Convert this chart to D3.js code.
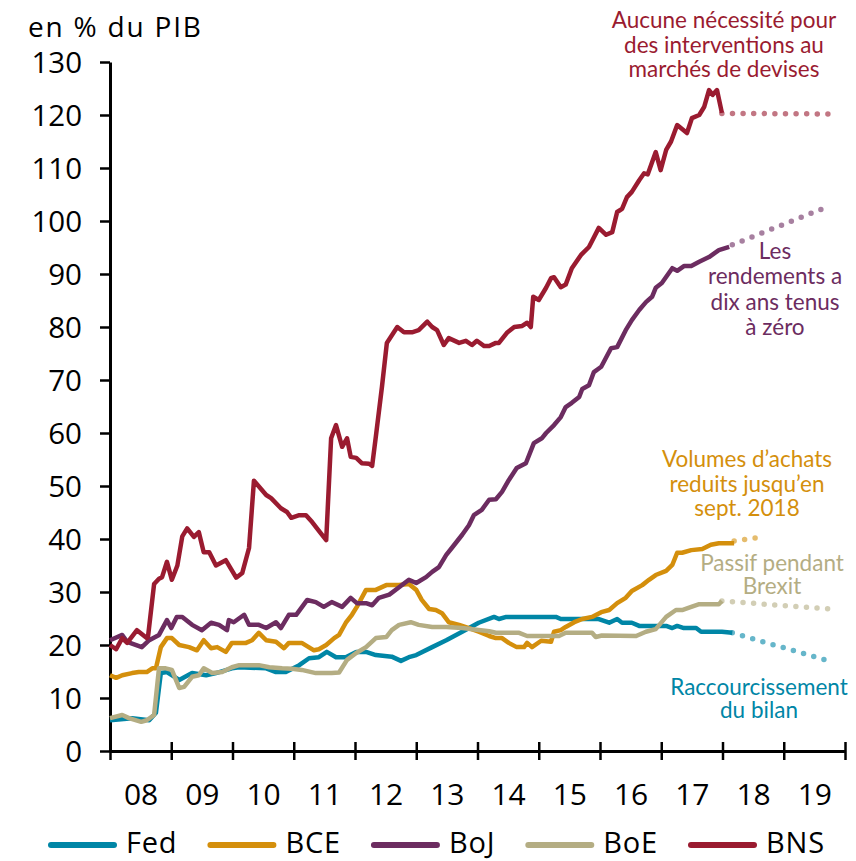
<!DOCTYPE html>
<html>
<head>
<meta charset="utf-8">
<script src="https://cdn.jsdelivr.net/npm/d3@7"></script>
<style>
  body { margin: 0; background: #fff; }
  text { font-family: "Open Sans", "DejaVu Sans", sans-serif; }
  .note { font-family: Lato, "Open Sans", sans-serif; font-size: 22.5px; }
</style>
</head>
<body>
<script>
// ---- data (% of GDP) ----
var years = [2008, 2009, 2010, 2011, 2012, 2013, 2014, 2015, 2016, 2017, 2018, 2019, 2020];
var yearLabels = ["08", "09", "10", "11", "12", "13", "14", "15", "16", "17", "18", "19"];
var yTicks = [0, 10, 20, 30, 40, 50, 60, 70, 80, 90, 100, 110, 120, 130];
var seriesNames = ["Fed", "BCE", "BoJ", "BoE", "BNS"];

var fedDates = [2008.00, 2008.36, 2008.64, 2008.75, 2008.83, 2008.93, 2009.13, 2009.34, 2009.57, 2009.73, 2009.99, 2010.11, 2010.55, 2010.71, 2010.87, 2011.09, 2011.25, 2011.41, 2011.54, 2011.69, 2011.85, 2012.02, 2012.18, 2012.34, 2012.60, 2012.75, 2012.88, 2013.00, 2013.26, 2013.49, 2013.75, 2014.02, 2014.27, 2014.35, 2014.47, 2015.28, 2015.36, 2015.98, 2016.15, 2016.28, 2016.36, 2016.52, 2016.64, 2017.08, 2017.18, 2017.26, 2017.37, 2017.57, 2017.65, 2017.99, 2018.16];
var fedValues = [5.8, 6.2, 5.8, 7.2, 14.7, 14.9, 13.4, 14.7, 14.3, 14.7, 15.6, 15.8, 15.6, 14.9, 14.9, 16.2, 17.5, 17.7, 18.7, 17.7, 17.7, 18.7, 18.7, 18.1, 17.8, 17.0, 17.7, 18.1, 19.6, 20.9, 22.5, 24.2, 25.3, 24.9, 25.3, 25.3, 24.9, 24.9, 24.2, 24.9, 24.2, 24.2, 23.6, 23.6, 23.2, 23.6, 23.2, 23.2, 22.5, 22.5, 22.3];

var bceDates = [2008.00, 2008.10, 2008.20, 2008.36, 2008.47, 2008.60, 2008.69, 2008.75, 2008.83, 2008.93, 2009.01, 2009.13, 2009.29, 2009.42, 2009.53, 2009.65, 2009.75, 2009.89, 2009.99, 2010.22, 2010.32, 2010.43, 2010.55, 2010.71, 2010.84, 2010.92, 2011.13, 2011.33, 2011.41, 2011.53, 2011.66, 2011.74, 2011.85, 2011.95, 2012.03, 2012.18, 2012.34, 2012.51, 2012.72, 2012.88, 2013.00, 2013.09, 2013.21, 2013.32, 2013.42, 2013.53, 2013.70, 2013.86, 2014.02, 2014.19, 2014.30, 2014.40, 2014.51, 2014.64, 2014.76, 2014.81, 2014.89, 2015.04, 2015.20, 2015.25, 2015.36, 2015.44, 2015.58, 2015.71, 2015.87, 2016.02, 2016.15, 2016.28, 2016.42, 2016.52, 2016.69, 2016.80, 2016.91, 2017.08, 2017.18, 2017.26, 2017.34, 2017.49, 2017.67, 2017.81, 2017.94, 2018.19];
var bceValues = [14.3, 13.8, 14.3, 14.7, 14.9, 14.9, 15.6, 15.6, 19.6, 21.3, 21.3, 20.0, 19.6, 19.0, 20.9, 19.4, 19.6, 18.7, 20.4, 20.4, 20.9, 22.3, 20.9, 20.6, 19.4, 20.4, 20.4, 19.0, 19.2, 20.0, 21.3, 21.9, 24.2, 25.7, 27.2, 30.4, 30.4, 31.3, 31.3, 31.5, 30.4, 28.5, 26.8, 26.6, 26.0, 24.3, 23.8, 23.2, 22.5, 21.7, 21.3, 21.3, 20.4, 19.6, 19.6, 20.4, 19.6, 20.8, 20.6, 22.5, 22.8, 23.4, 24.3, 24.9, 25.3, 26.2, 26.6, 27.9, 28.9, 30.2, 31.3, 32.3, 33.2, 34.0, 35.1, 37.4, 37.4, 37.9, 38.1, 38.9, 39.2, 39.2];

var bojDates = [2008.00, 2008.20, 2008.28, 2008.52, 2008.64, 2008.80, 2008.93, 2009.00, 2009.09, 2009.18, 2009.34, 2009.50, 2009.65, 2009.78, 2009.91, 2009.94, 2010.02, 2010.19, 2010.27, 2010.43, 2010.55, 2010.71, 2010.79, 2010.92, 2011.04, 2011.22, 2011.36, 2011.49, 2011.62, 2011.79, 2011.93, 2012.03, 2012.18, 2012.28, 2012.39, 2012.56, 2012.72, 2012.88, 2013.00, 2013.16, 2013.26, 2013.37, 2013.49, 2013.58, 2013.75, 2013.86, 2013.94, 2014.07, 2014.19, 2014.30, 2014.40, 2014.51, 2014.64, 2014.79, 2014.92, 2015.05, 2015.12, 2015.25, 2015.36, 2015.44, 2015.54, 2015.66, 2015.71, 2015.82, 2015.90, 2016.02, 2016.18, 2016.28, 2016.42, 2016.52, 2016.64, 2016.75, 2016.85, 2016.91, 2017.01, 2017.18, 2017.26, 2017.37, 2017.49, 2017.62, 2017.78, 2017.94, 2018.11];
var bojValues = [20.9, 21.9, 20.6, 19.6, 20.9, 21.9, 24.7, 23.2, 25.3, 25.3, 23.8, 22.8, 24.2, 23.8, 22.8, 24.7, 24.3, 25.7, 23.8, 23.8, 23.2, 24.3, 23.2, 25.7, 25.7, 28.5, 28.1, 27.2, 28.1, 27.2, 28.9, 27.9, 27.9, 27.5, 28.9, 29.5, 30.9, 32.3, 31.7, 32.8, 33.8, 34.7, 37.0, 38.3, 40.8, 42.6, 44.5, 45.5, 47.4, 47.5, 48.9, 51.1, 53.4, 54.3, 58.1, 59.0, 60.0, 61.5, 63.0, 64.9, 65.7, 66.8, 68.3, 69.0, 71.5, 72.5, 76.0, 76.2, 79.4, 81.3, 83.2, 84.7, 85.7, 87.4, 88.3, 91.1, 90.6, 91.5, 91.5, 92.3, 93.2, 94.5, 95.1];

var boeDates = [2008.00, 2008.20, 2008.31, 2008.51, 2008.60, 2008.72, 2008.80, 2008.91, 2009.01, 2009.13, 2009.21, 2009.34, 2009.45, 2009.53, 2009.67, 2009.83, 2009.99, 2010.11, 2010.43, 2010.60, 2010.81, 2010.97, 2011.13, 2011.36, 2011.62, 2011.74, 2011.87, 2012.02, 2012.18, 2012.34, 2012.51, 2012.60, 2012.72, 2012.91, 2013.04, 2013.26, 2013.49, 2013.75, 2014.19, 2014.30, 2014.68, 2014.81, 2015.33, 2015.44, 2015.87, 2015.93, 2016.03, 2016.59, 2016.75, 2016.91, 2017.08, 2017.24, 2017.34, 2017.49, 2017.62, 2017.94, 2017.99];
var boeValues = [6.2, 6.8, 6.2, 5.5, 5.8, 6.8, 15.6, 15.6, 15.3, 11.9, 12.1, 14.0, 14.3, 15.6, 14.7, 14.9, 15.8, 16.2, 16.2, 15.8, 15.6, 15.5, 15.3, 14.7, 14.7, 14.8, 17.2, 18.5, 19.6, 21.3, 21.5, 22.8, 23.8, 24.3, 23.8, 23.4, 23.4, 23.2, 22.6, 22.3, 22.3, 21.7, 21.7, 22.3, 22.3, 21.5, 21.8, 21.7, 22.5, 23.0, 25.3, 26.6, 26.6, 27.2, 27.7, 27.7, 28.3];

var bnsDates = [2008.00, 2008.10, 2008.20, 2008.28, 2008.44, 2008.60, 2008.62, 2008.72, 2008.80, 2008.85, 2008.93, 2009.01, 2009.10, 2009.18, 2009.26, 2009.37, 2009.45, 2009.53, 2009.62, 2009.73, 2009.89, 2010.06, 2010.16, 2010.27, 2010.35, 2010.55, 2010.63, 2010.79, 2010.89, 2010.96, 2011.09, 2011.20, 2011.30, 2011.44, 2011.53, 2011.61, 2011.69, 2011.79, 2011.87, 2011.93, 2012.02, 2012.11, 2012.23, 2012.28, 2012.34, 2012.44, 2012.52, 2012.69, 2012.80, 2012.93, 2013.04, 2013.18, 2013.26, 2013.34, 2013.45, 2013.53, 2013.70, 2013.81, 2013.91, 2013.99, 2014.11, 2014.19, 2014.30, 2014.35, 2014.48, 2014.60, 2014.73, 2014.81, 2014.87, 2014.91, 2015.00, 2015.12, 2015.20, 2015.25, 2015.36, 2015.44, 2015.54, 2015.69, 2015.82, 2015.98, 2016.10, 2016.20, 2016.28, 2016.36, 2016.44, 2016.52, 2016.64, 2016.72, 2016.78, 2016.91, 2016.99, 2017.08, 2017.16, 2017.26, 2017.42, 2017.50, 2017.62, 2017.70, 2017.78, 2017.84, 2017.91, 2017.99];
var bnsValues = [20.0, 19.2, 21.3, 20.4, 22.8, 21.3, 21.5, 31.5, 32.5, 32.8, 35.7, 32.3, 35.0, 40.5, 42.0, 40.4, 41.3, 37.5, 37.5, 35.0, 36.0, 32.7, 33.6, 38.3, 51.0, 48.3, 47.7, 45.8, 45.1, 44.0, 44.5, 44.5, 43.2, 41.1, 39.8, 59.0, 61.5, 57.4, 59.0, 55.5, 55.3, 54.3, 54.2, 53.8, 59.3, 68.7, 77.0, 80.0, 79.0, 79.0, 79.4, 81.0, 80.0, 79.4, 76.6, 77.9, 77.0, 77.4, 76.6, 77.4, 76.4, 76.4, 77.0, 77.0, 78.9, 80.0, 80.2, 80.8, 80.0, 85.7, 85.1, 87.4, 89.2, 89.4, 87.5, 88.0, 91.1, 93.6, 95.1, 98.7, 97.4, 97.9, 101.7, 102.3, 104.5, 105.5, 107.7, 109.0, 108.8, 113.0, 109.6, 113.4, 115.0, 118.1, 116.6, 119.4, 120.0, 121.5, 124.7, 123.8, 124.7, 120.4];

// projections (dotted)
var fedProjDates = [2018.16, 2019.74], fedProjValues = [22.3, 17.0];
var bceProjDates = [2018.19, 2018.64], bceProjValues = [39.6, 40.4];
var bojProjDates = [2018.16, 2019.74], bojProjValues = [95.5, 102.8];
var boeProjDates = [2017.99, 2019.74], boeProjValues = [28.3, 26.8];
var bnsProjDates = [2017.99, 2019.74], bnsProjValues = [120.3, 120.2];

var colors = ["#0086a6", "#d48f0c", "#6c2c60", "#b4ad83", "#9a1b30"];

function pairs(dates, values) {
  return dates.map(function(d, i) { return {date: d, value: values[i]}; });
}

var series = [
  {name: "Fed", color: colors[0], values: pairs(fedDates, fedValues), proj: pairs(fedProjDates, fedProjValues)},
  {name: "BCE", color: colors[1], values: pairs(bceDates, bceValues), proj: pairs(bceProjDates, bceProjValues)},
  {name: "BoJ", color: colors[2], values: pairs(bojDates, bojValues), proj: pairs(bojProjDates, bojProjValues)},
  {name: "BoE", color: colors[3], values: pairs(boeDates, boeValues), proj: pairs(boeProjDates, boeProjValues)},
  {name: "BNS", color: colors[4], values: pairs(bnsDates, bnsValues), proj: pairs(bnsProjDates, bnsProjValues)}
];

var notes = [
  {lines: ["Aucune nécessité pour", "des interventions au", "marchés de devises"], x: 724, y: 28, color: colors[4], step: 24.5},
  {lines: ["Les", "rendements a", "dix ans tenus", "à zéro"], x: 775, y: 259, color: colors[2], step: 25.3},
  {lines: ["Volumes d’achats", "reduits jusqu’en", "sept. 2018"], x: 747, y: 467, color: colors[1], step: 24.5},
  {lines: ["Passif pendant", "Brexit"], x: 772, y: 571, color: colors[3], step: 23},
  {lines: ["Raccourcissement", "du bilan"], x: 759, y: 695, color: colors[0], step: 23}
];

var svgWidth = 856;
var svgHeight = 861;

var xScale = d3.scaleLinear()
  .domain([2008, 2020])
  .range([110, 845]);

var yScale = d3.scaleLinear()
  .domain([0, 130])
  .range([751, 62]);

var svg = d3.select("body")
  .append("svg")
  .attr("width", svgWidth)
  .attr("height", svgHeight);

// title
svg.append("text")
  .attr("x", 28)
  .attr("y", 37)
  .style("font-size", "28px")
  .style("letter-spacing", "1.8px")
  .text("en % du PIB");

// y axis
var yAxis = svg.append("g")
  .attr("transform", "translate(110, 0)")
  .call(d3.axisLeft(yScale).tickValues(yTicks).tickSize(10).tickSizeOuter(0).tickPadding(18));
yAxis.select(".domain").attr("stroke-width", 3);
yAxis.selectAll(".tick line").attr("stroke-width", 2.5);
yAxis.selectAll("text")
  .style("font-size", "29.5px")
  .attr("fill", "#000")
  .attr("dy", "0.36em");

// x axis (ticks crossing the line)
var xAxis = svg.append("g")
  .attr("transform", "translate(0, 751)")
  .call(d3.axisBottom(xScale).tickValues(years).tickSize(9).tickSizeOuter(0).tickFormat(""));
xAxis.select(".domain").attr("stroke-width", 3);
xAxis.selectAll(".tick line").attr("y1", -9).attr("stroke-width", 2.5);

// year labels between ticks
var xLabels = svg.append("g")
  .attr("transform", "translate(0, 751)")
  .call(d3.axisBottom(xScale)
    .tickValues(years.slice(0, -1).map(function(d) { return d + 0.5; }))
    .tickSize(0)
    .tickFormat(function(d, i) { return yearLabels[i]; }));
xLabels.select(".domain").remove();
xLabels.selectAll("text")
  .attr("y", 54)
  .attr("dy", 0)
  .attr("fill", "#000")
  .style("font-size", "30px");

var line = d3.line()
  .x(function(d) { return xScale(d.date); })
  .y(function(d) { return yScale(d.value); });

// dotted projections
svg.selectAll(".proj")
  .data(series)
  .enter()
  .append("path")
  .attr("class", "proj")
  .attr("d", function(d) { return line(d.proj); })
  .attr("fill", "none")
  .attr("stroke", function(d) { return d.color; })
  .attr("stroke-opacity", 0.6)
  .attr("stroke-width", 5.5)
  .attr("stroke-linecap", "round")
  .attr("stroke-dasharray", "0 10.6");

// solid lines
svg.selectAll(".series")
  .data(series)
  .enter()
  .append("path")
  .attr("class", "series")
  .attr("d", function(d) { return line(d.values); })
  .attr("fill", "none")
  .attr("stroke", function(d) { return d.color; })
  .attr("stroke-width", 4.5)
  .attr("stroke-linejoin", "round");

// annotations
notes.forEach(function(n) {
  var t = svg.append("text")
    .attr("class", "note")
    .attr("text-anchor", "middle")
    .attr("fill", n.color);
  n.lines.forEach(function(l, i) {
    t.append("tspan")
      .attr("x", n.x)
      .attr("y", n.y + i * n.step)
      .text(l);
  });
});

// legend
var legend = svg.append("g");
var lx = 48;
series.forEach(function(s) {
  legend.append("line")
    .attr("x1", lx + 3)
    .attr("x2", lx + 66)
    .attr("y1", 845)
    .attr("y2", 845)
    .attr("stroke", s.color)
    .attr("stroke-width", 6)
    .attr("stroke-linecap", "round");
  var t = legend.append("text")
    .attr("x", lx + 78)
    .attr("y", 853)
    .style("font-size", "29px")
    .style("letter-spacing", "0.8px")
    .text(s.name);
  lx = lx + 78 + t.node().getComputedTextLength() + 30;
});
</script>
</body>
</html>
